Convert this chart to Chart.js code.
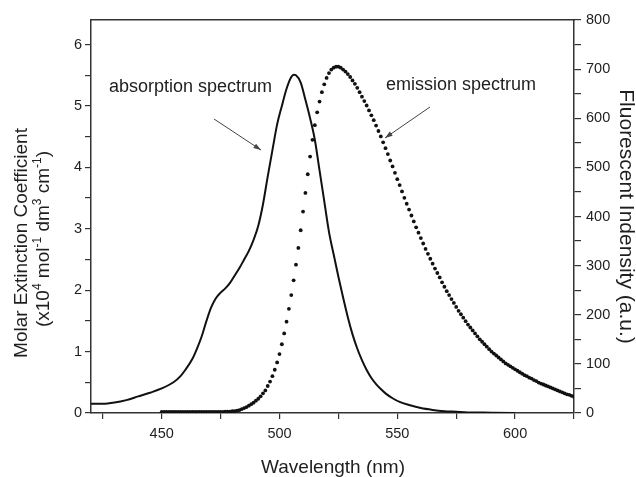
<!DOCTYPE html>
<html>
<head>
<meta charset="utf-8">
<script src="https://cdn.jsdelivr.net/npm/chart.js@4.4.1/dist/chart.umd.min.js"></script>
<style>
  html, body { margin: 0; padding: 0; background: #fff; }
  #wrap { width: 636px; height: 477px; }
</style>
</head>
<body>
<div id="wrap"><canvas id="spectra" width="636" height="477"></canvas></div>
<script>
// --- Data ---
// absorption: wavelength (nm) and molar extinction coefficient (x10^4)
const absWavelength = [420, 425, 430, 435, 440, 445, 450, 455, 458, 460, 463, 465, 467, 469,
    471, 473, 475, 477, 479, 481, 483, 485, 487, 489, 491, 493, 495, 497, 499,
    501, 503, 505, 506, 507, 509, 511, 513, 515, 517, 519, 521, 523, 525, 527, 529,
    531, 533, 535, 537, 539, 541, 543, 545, 548, 551, 555, 560, 565, 570, 575, 580, 590, 600];
const absCoefficient = [0.15, 0.15, 0.17, 0.21, 0.27, 0.33, 0.40, 0.50, 0.60, 0.70, 0.88, 1.05, 1.25, 1.50,
    1.72, 1.87, 1.96, 2.03, 2.12, 2.24, 2.36, 2.50, 2.64, 2.82, 3.05, 3.40, 3.85, 4.28, 4.70,
    5.00, 5.28, 5.47, 5.51, 5.50, 5.38, 5.10, 4.80, 4.45, 3.95, 3.45, 2.95, 2.58, 2.22, 1.88, 1.56,
    1.28, 1.05, 0.86, 0.70, 0.57, 0.47, 0.39, 0.32, 0.24, 0.18, 0.13, 0.08, 0.05, 0.03, 0.02, 0.01, 0.005, 0];

// emission: one reading per nm, 450 .. 625 nm (fluorescent intensity, a.u.)
const emFirstWavelength = 450;
const emIntensity = [
    2, 2, 2, 2, 2, 2, 2, 2, 2, 2,                 // 450
    2, 2, 2, 2, 2, 2, 2, 2, 2, 2,                 // 460
    2, 2, 2, 2, 2, 2, 2, 3, 3, 3,                 // 470
    4, 4, 5, 6, 8, 10, 12, 15, 18, 21,            // 480
    25, 29, 34, 40, 46, 55, 64, 75, 88, 103,      // 490
    120, 140, 162, 186, 212, 240, 270, 302, 336, 372, // 500
    410, 448, 486, 522, 556, 586, 612, 634, 653, 669, // 510
    682, 692, 699, 703, 705, 705, 703, 699, 695, 690, // 520
    684, 677, 670, 662, 653, 644, 635, 626, 616, 606, // 530
    596, 585, 574, 563, 551, 539, 527, 514, 502, 489, // 540
    476, 464, 451, 438, 426, 414, 402, 390, 378, 367, // 550
    356, 345, 334, 324, 314, 304, 294, 285, 276, 266, // 560
    257, 248, 240, 232, 224, 216, 208, 201, 194, 187, // 570
    180, 174, 168, 162, 156, 150, 145, 140, 135, 130, // 580
    125, 121, 117, 113, 109, 105, 101, 98, 95, 92,    // 590
    89, 86, 83, 80, 77, 75, 72, 70, 67, 65,           // 600
    62, 60, 58, 56, 54, 52, 50, 48, 46, 44,           // 610
    42, 40, 38, 37, 35, 33                            // 620
];

const xTickLabels = [450, 500, 550, 600];
const leftTickLabels = [0, 1, 2, 3, 4, 5, 6];
const rightTickLabels = [0, 100, 200, 300, 400, 500, 600, 700, 800];

// --- Styling ---
const FONT = '"Liberation Sans", Arial, Helvetica, sans-serif';
const INK = '#1e1e1e';
const AXIS = '#333';

const absPoints = absWavelength.map((w, i) => ({ x: w, y: absCoefficient[i] }));
const emPoints = emIntensity.map((v, i) => ({ x: emFirstWavelength + i, y: v }));

const unitParts = [
    { t: '(x10' }, { t: '4', sup: true }, { t: ' mol' }, { t: '-1', sup: true },
    { t: ' dm' }, { t: '3', sup: true }, { t: ' cm' }, { t: '-1', sup: true }, { t: ')' }
];

function drawRich(ctx, parts, size, supSize, rise) {
    let total = 0;
    parts.forEach(p => {
        ctx.font = `${p.sup ? supSize : size}px ${FONT}`;
        p.w = ctx.measureText(p.t).width;
        total += p.w;
    });
    let x = -total / 2;
    ctx.textAlign = 'left';
    parts.forEach(p => {
        ctx.font = `${p.sup ? supSize : size}px ${FONT}`;
        ctx.fillText(p.t, x, p.sup ? -rise : 0);
        x += p.w;
    });
}

function drawArrow(ctx, x1, y1, x2, y2) {
    const ang = Math.atan2(y2 - y1, x2 - x1);
    const len = 8, spread = 0.32;
    ctx.beginPath();
    ctx.moveTo(x1, y1);
    ctx.lineTo(x2, y2);
    ctx.stroke();
    ctx.beginPath();
    ctx.moveTo(x2, y2);
    ctx.lineTo(x2 - len * Math.cos(ang - spread), y2 - len * Math.sin(ang - spread));
    ctx.lineTo(x2 - len * Math.cos(ang + spread), y2 - len * Math.sin(ang + spread));
    ctx.closePath();
    ctx.fill();
}

const textPlugin = {
    id: 'spectraText',
    afterDraw(chart) {
        const ctx = chart.ctx;
        ctx.save();
        ctx.fillStyle = INK;
        ctx.strokeStyle = '#444';
        ctx.lineWidth = 1;
        ctx.textBaseline = 'alphabetic';

        // x title
        ctx.font = `19px ${FONT}`;
        ctx.textAlign = 'center';
        ctx.fillText('Wavelength (nm)', 333, 473);

        // left title, two lines
        ctx.save();
        ctx.translate(26.5, 243);
        ctx.rotate(-Math.PI / 2);
        ctx.textAlign = 'center';
        ctx.font = `19px ${FONT}`;
        ctx.fillText('Molar Extinction Coefficient', 0, 0);
        ctx.restore();

        ctx.save();
        ctx.translate(49, 239);
        ctx.rotate(-Math.PI / 2);
        drawRich(ctx, unitParts, 19, 12, 8);
        ctx.restore();

        // right title
        ctx.save();
        ctx.translate(620, 216.5);
        ctx.rotate(Math.PI / 2);
        ctx.textAlign = 'center';
        ctx.font = `21px ${FONT}`;
        ctx.fillText('Fluorescent Indensity (a.u.)', 0, 0);
        ctx.restore();

        // annotations
        ctx.font = `18px ${FONT}`;
        ctx.textAlign = 'left';
        ctx.fillText('absorption spectrum', 109, 91.5);
        ctx.fillText('emission spectrum', 386, 89.5);
        ctx.fillStyle = '#444';
        drawArrow(ctx, 214, 119, 261, 150);
        drawArrow(ctx, 430, 107, 385, 138);
        ctx.restore();
    }
};

const tickFont = { family: FONT, size: 14.5 };

new Chart(document.getElementById('spectra'), {
    type: 'scatter',
    data: {
        datasets: [
            {
                label: 'absorption spectrum',
                data: absPoints,
                yAxisID: 'y',
                showLine: true,
                borderColor: '#111',
                borderWidth: 2,
                pointRadius: 0,
                cubicInterpolationMode: 'monotone'
            },
            {
                label: 'emission spectrum',
                data: emPoints,
                yAxisID: 'y2',
                showLine: false,
                pointRadius: 1.9,
                pointBorderWidth: 0,
                pointBackgroundColor: '#111',
                pointBorderColor: '#111'
            }
        ]
    },
    options: {
        responsive: false,
        animation: false,
        events: [],
        layout: { padding: { top: 20, left: 0, right: 0, bottom: 0 } },
        plugins: { legend: { display: false }, tooltip: { enabled: false } },
        scales: {
            x: {
                type: 'linear', position: 'bottom', min: 420, max: 625,
                ticks: {
                    stepSize: 25, includeBounds: false, autoSkip: false, maxRotation: 0,
                    padding: 6, color: INK, font: tickFont,
                    callback: v => xTickLabels.includes(v) ? String(v) : ''
                },
                grid: { drawOnChartArea: false, tickLength: 6, color: AXIS, lineWidth: 1.2 },
                border: { display: true, color: AXIS, width: 1.5 },
                afterFit: s => { s.height = 64; }
            },
            xTop: {
                type: 'linear', position: 'top', min: 420, max: 625,
                ticks: { display: false },
                grid: { display: false, drawTicks: false },
                border: { display: true, color: AXIS, width: 1.5 },
                afterFit: s => { s.height = 0; }
            },
            y: {
                type: 'linear', position: 'left', min: 0, max: 6.4,
                ticks: {
                    stepSize: 0.5, includeBounds: false, autoSkip: false,
                    padding: 3, color: INK, font: tickFont,
                    callback: v => leftTickLabels.includes(v) ? String(v) : ''
                },
                grid: { drawOnChartArea: false, tickLength: 6, color: AXIS, lineWidth: 1.2 },
                border: { display: true, color: AXIS, width: 1.5 },
                afterFit: s => { s.width = 91; }
            },
            y2: {
                type: 'linear', position: 'right', min: 0, max: 800,
                ticks: {
                    stepSize: 50, includeBounds: false, autoSkip: false,
                    padding: 5, color: INK, font: tickFont,
                    callback: v => rightTickLabels.includes(v) ? String(v) : ''
                },
                grid: { drawOnChartArea: false, tickLength: 7, color: AXIS, lineWidth: 1.2 },
                border: { display: true, color: AXIS, width: 1.5 },
                afterFit: s => { s.width = 62; }
            }
        }
    },
    plugins: [textPlugin]
});
</script>
</body>
</html>
